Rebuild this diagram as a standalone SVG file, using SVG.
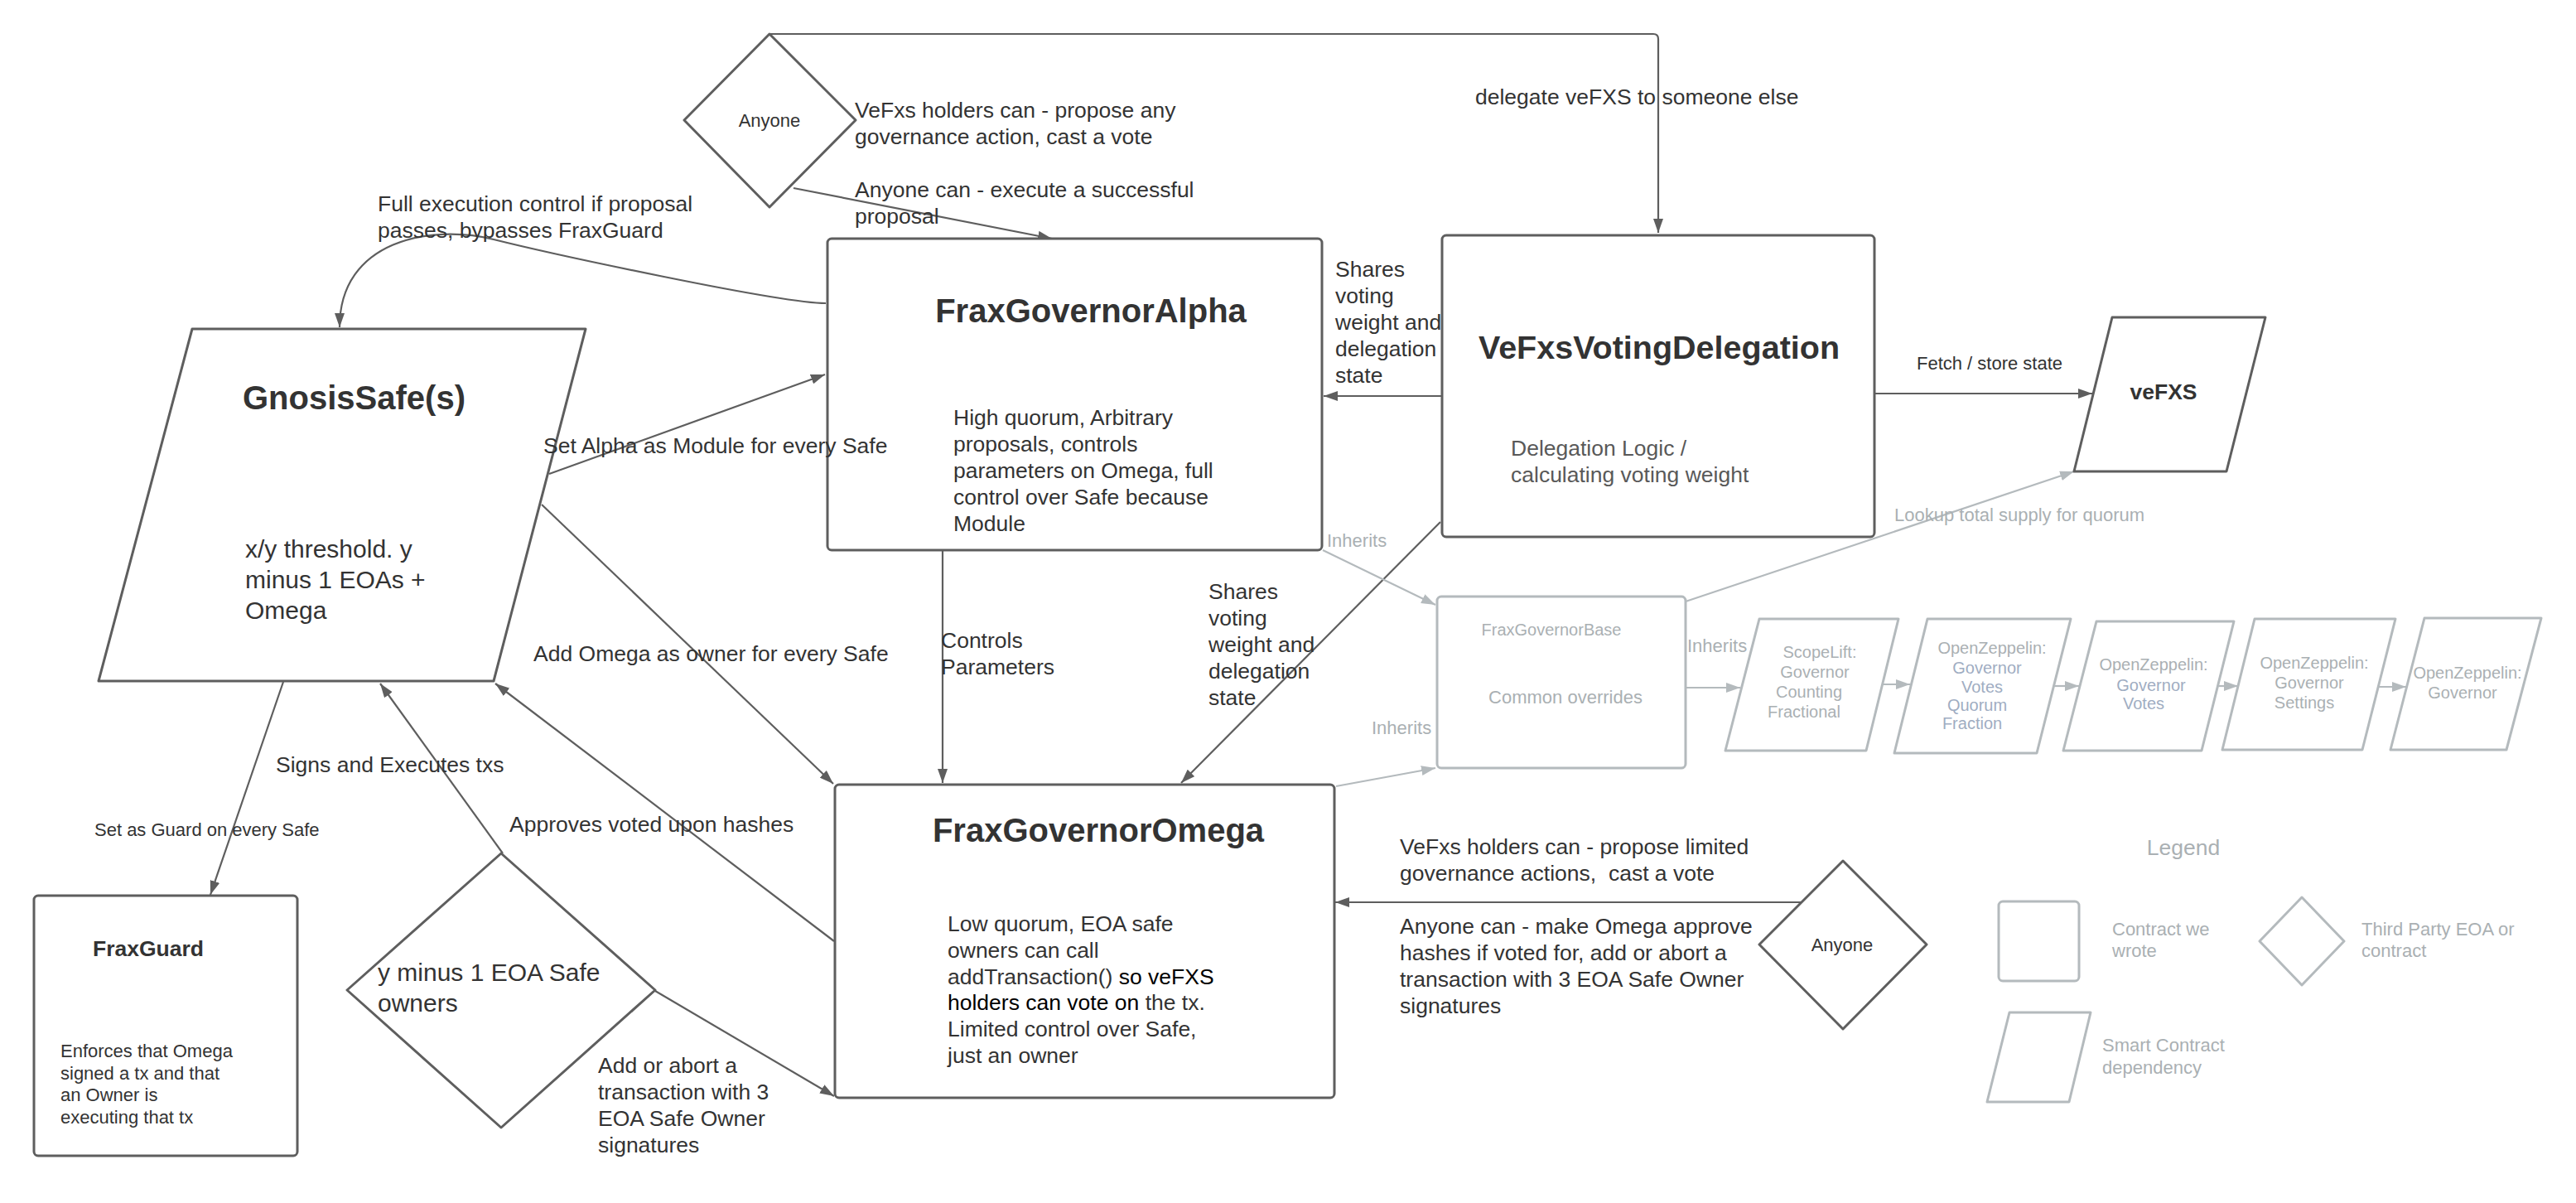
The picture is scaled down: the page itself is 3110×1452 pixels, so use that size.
<svg xmlns="http://www.w3.org/2000/svg" width="3110" height="1452" viewBox="0 0 3110 1452">
<defs>
<style>
text{font-family:"Liberation Sans",Arial,sans-serif;fill:#333333}
.t{font-size:26.5px}
.s{font-size:22px}
.xs{font-size:20px}
.b{font-weight:bold}
.h{font-size:40px;font-weight:bold}
.g{fill:#aab0b3}
.gb{fill:#9fadc2}
.blk{fill:#000000}
.shape{fill:#ffffff;stroke:#5e5e5e;stroke-width:3;stroke-linejoin:round}
.gshape{fill:#ffffff;stroke:#b4babd;stroke-width:3;stroke-linejoin:round}
.c{fill:none;stroke:#5e5e5e;stroke-width:2.2}
.gc{fill:none;stroke:#b4babd;stroke-width:2.2}
</style>
<marker id="ah" viewBox="0 0 17 12" refX="17" refY="6" markerWidth="17" markerHeight="12" markerUnits="userSpaceOnUse" orient="auto"><path d="M0,0 L17,6 L0,12 Z" fill="#5e5e5e"/></marker>
<marker id="gah" viewBox="0 0 17 12" refX="17" refY="6" markerWidth="17" markerHeight="12" markerUnits="userSpaceOnUse" orient="auto"><path d="M0,0 L17,6 L0,12 Z" fill="#b4babd"/></marker>
</defs>
<rect width="3110" height="1452" fill="#ffffff"/>

<g id="connectors">
<path class="c" d="M929,41 H1996 Q2002,41 2002,47 V281" marker-end="url(#ah)"/>
<path class="c" d="M958,227 L1270,288" marker-end="url(#ah)"/>
<path class="c" d="M997,366 C940,366 660,305 596,289 C520,270 410,290 410,395" marker-end="url(#ah)"/>
<path class="c" d="M663,572 L996,452" marker-end="url(#ah)"/>
<path class="c" d="M654,609 L1006,946" marker-end="url(#ah)"/>
<path class="c" d="M1138,664 V945" marker-end="url(#ah)"/>
<path class="c" d="M1741,478 H1598" marker-end="url(#ah)"/>
<path class="c" d="M1739,630 L1426,945" marker-end="url(#ah)"/>
<path class="c" d="M2263,475 H2526" marker-end="url(#ah)"/>
<path class="c" d="M2175,1089 H1612" marker-end="url(#ah)"/>
<path class="c" d="M342,823 L254,1080" marker-end="url(#ah)"/>
<path class="c" d="M607,1030 L459,825" marker-end="url(#ah)"/>
<path class="c" d="M1007,1136 L598,825" marker-end="url(#ah)"/>
<path class="c" d="M791,1196 L1007,1323" marker-end="url(#ah)"/>
<path class="gc" d="M2035,726 L2504,569" marker-end="url(#gah)"/>
<path class="gc" d="M1597,664 L1733,730" marker-end="url(#gah)"/>
<path class="gc" d="M1613,949 L1733,927" marker-end="url(#gah)"/>
<path class="gc" d="M2035,830 H2101" marker-end="url(#gah)"/>
<path class="gc" d="M2273,826 H2306" marker-end="url(#gah)"/>
<path class="gc" d="M2480,828 H2510" marker-end="url(#gah)"/>
<path class="gc" d="M2678,828 H2702" marker-end="url(#gah)"/>
<path class="gc" d="M2871,829 H2905" marker-end="url(#gah)"/>
</g>

<g id="anyone-top">
<path class="shape" d="M929,41 L1033,145 L929,250 L826,145 Z"/>
<text class="s" x="929" y="153" text-anchor="middle">Anyone</text>
</g>

<g id="frax-governor-alpha">
<rect class="shape" x="999" y="288" width="597" height="376" rx="5"/>
<text class="h" x="1317" y="389" text-anchor="middle">FraxGovernorAlpha</text>
<text class="t" x="1151" y="513">High quorum, Arbitrary</text>
<text class="t" x="1151" y="545">proposals, controls</text>
<text class="t" x="1151" y="577">parameters on Omega, full</text>
<text class="t" x="1151" y="609">control over Safe because</text>
<text class="t" x="1151" y="641">Module</text>
</g>

<g id="vefxs-voting-delegation">
<rect class="shape" x="1741" y="284" width="522" height="364" rx="5"/>
<text class="b" x="2003" y="433" text-anchor="middle" style="font-size:39.5px">VeFxsVotingDelegation</text>
<text class="t" x="1824" y="550" style="fill:#595959">Delegation Logic /</text>
<text class="t" x="1824" y="582" style="fill:#595959">calculating voting weight</text>
</g>

<g id="vefxs">
<path class="shape" d="M2550,383 L2735,383 L2688,569 L2504,569 Z"/>
<text class="t b" x="2612" y="482" text-anchor="middle">veFXS</text>
</g>

<g id="gnosis-safe">
<path class="shape" d="M232,397 L707,397 L596,822 L119,822 Z"/>
<text class="h" x="293" y="494">GnosisSafe(s)</text>
<text x="296" y="673" style="font-size:30px">x/y threshold. y</text>
<text x="296" y="710" style="font-size:30px">minus 1 EOAs +</text>
<text x="296" y="747" style="font-size:30px">Omega</text>
</g>

<g id="frax-governor-base">
<rect class="gshape" x="1735" y="720" width="300" height="207" rx="5"/>
<text class="xs g" x="1873" y="767" text-anchor="middle">FraxGovernorBase</text>
<text class="s g" x="1890" y="849" text-anchor="middle">Common overrides</text>
</g>

<g id="scopelift-counting-fractional">
<path class="gshape" d="M2124,747 L2292,747 L2253,906 L2083,906 Z"/>
<text class="xs g" x="2197" y="794" text-anchor="middle">ScopeLift:</text>
<text class="xs g" x="2191" y="818" text-anchor="middle">Governor</text>
<text class="xs g" x="2184" y="842" text-anchor="middle">Counting</text>
<text class="xs g" x="2178" y="866" text-anchor="middle">Fractional</text>
</g>

<g id="oz-governor-votes-quorum-fraction">
<path class="gshape" d="M2327,747 L2500,747 L2459,909 L2287,909 Z"/>
<text class="xs g" x="2405" y="789" text-anchor="middle">OpenZeppelin:</text>
<text class="xs gb" x="2399" y="813" text-anchor="middle">Governor</text>
<text class="xs gb" x="2393" y="836" text-anchor="middle">Votes</text>
<text class="xs gb" x="2387" y="858" text-anchor="middle">Quorum</text>
<text class="xs gb" x="2381" y="880" text-anchor="middle">Fraction</text>
</g>

<g id="oz-governor-votes">
<path class="gshape" d="M2531,750 L2697,750 L2658,906 L2491,906 Z"/>
<text class="xs g" x="2600" y="809" text-anchor="middle">OpenZeppelin:</text>
<text class="xs gb" x="2597" y="834" text-anchor="middle">Governor</text>
<text class="xs gb" x="2588" y="856" text-anchor="middle">Votes</text>
</g>

<g id="oz-governor-settings">
<path class="gshape" d="M2722,747 L2892,747 L2852,905 L2683,905 Z"/>
<text class="xs g" x="2794" y="807" text-anchor="middle">OpenZeppelin:</text>
<text class="xs g" x="2788" y="831" text-anchor="middle">Governor</text>
<text class="xs g" x="2782" y="855" text-anchor="middle">Settings</text>
</g>

<g id="oz-governor">
<path class="gshape" d="M2927,746 L3068,746 L3026,905 L2886,905 Z"/>
<text class="xs g" x="2979" y="819" text-anchor="middle">OpenZeppelin:</text>
<text class="xs g" x="2973" y="843" text-anchor="middle">Governor</text>
</g>

<g id="frax-governor-omega">
<rect class="shape" x="1008" y="947" width="603" height="378" rx="5"/>
<text class="h" x="1326" y="1016" text-anchor="middle">FraxGovernorOmega</text>
<text class="t" x="1144" y="1124">Low quorum, EOA safe</text>
<text class="t" x="1144" y="1156">owners can call</text>
<text class="t" x="1144" y="1188">addTransaction()<tspan class="blk"> so veFXS</tspan></text>
<text class="t" x="1144" y="1219"><tspan class="blk">holders can vote on</tspan> the tx.</text>
<text class="t" x="1144" y="1251">Limited control over Safe,</text>
<text class="t" x="1144" y="1283">just an owner</text>
</g>

<g id="anyone-right">
<path class="shape" d="M2225,1039 L2326,1140 L2225,1242 L2124,1140 Z"/>
<text class="s" x="2224" y="1148" text-anchor="middle">Anyone</text>
</g>

<g id="frax-guard">
<rect class="shape" x="41" y="1081" width="318" height="314" rx="5"/>
<text class="t b" x="112" y="1154">FraxGuard</text>
<text class="s" x="73" y="1276">Enforces that Omega</text>
<text class="s" x="73" y="1303">signed a tx and that</text>
<text class="s" x="73" y="1329">an Owner is</text>
<text class="s" x="73" y="1356">executing that tx</text>
</g>

<g id="eoa-safe-owners">
<path class="shape" d="M605,1030 L791,1195 L605,1361 L419,1195 Z"/>
<text x="456" y="1184" style="font-size:30px">y minus 1 EOA Safe</text>
<text x="456" y="1221" style="font-size:30px">owners</text>
</g>

<g id="legend">
<text class="t g" x="2636" y="1032" text-anchor="middle">Legend</text>
<rect class="gshape" x="2413" y="1088" width="97" height="96" rx="5"/>
<text class="s g" x="2550" y="1129">Contract we</text>
<text class="s g" x="2550" y="1155">wrote</text>
<path class="gshape" d="M2779,1083 L2830,1136 L2779,1189 L2728,1136 Z"/>
<text class="s g" x="2851" y="1129">Third Party EOA or</text>
<text class="s g" x="2851" y="1155">contract</text>
<path class="gshape" d="M2426,1222 L2524,1222 L2498,1330 L2399,1330 Z"/>
<text class="s g" x="2538" y="1269">Smart Contract</text>
<text class="s g" x="2538" y="1296">dependency</text>
</g>

<g id="connector-labels">
<text class="t" x="1032" y="142">VeFxs holders can - propose any</text>
<text class="t" x="1032" y="174">governance action, cast a vote</text>
<text class="t" x="1032" y="238">Anyone can - execute a successful</text>
<text class="t" x="1032" y="270">proposal</text>
<text class="t" x="1781" y="126">delegate veFXS to someone else</text>
<text class="t" x="456" y="255">Full execution control if proposal</text>
<text class="t" x="456" y="287">passes, bypasses FraxGuard</text>
<text class="t" x="1612" y="334">Shares</text>
<text class="t" x="1612" y="366">voting</text>
<text class="t" x="1612" y="398">weight and</text>
<text class="t" x="1612" y="430">delegation</text>
<text class="t" x="1612" y="462">state</text>
<text class="s" x="2402" y="446" text-anchor="middle">Fetch / store state</text>
<text class="s g" x="2287" y="629">Lookup total supply for quorum</text>
<text class="t" x="656" y="547">Set Alpha as Module for every Safe</text>
<text class="t" x="644" y="798">Add Omega as owner for every Safe</text>
<text class="t" x="1136" y="782">Controls</text>
<text class="t" x="1136" y="814">Parameters</text>
<text class="s g" x="1602" y="660">Inherits</text>
<text class="t" x="1459" y="723">Shares</text>
<text class="t" x="1459" y="755">voting</text>
<text class="t" x="1459" y="787">weight and</text>
<text class="t" x="1459" y="819">delegation</text>
<text class="t" x="1459" y="851">state</text>
<text class="s g" x="1656" y="886">Inherits</text>
<text class="s g" x="2037" y="787">Inherits</text>
<text class="t" x="1690" y="1031">VeFxs holders can - propose limited</text>
<text class="t" x="1690" y="1063" xml:space="preserve">governance actions,  cast a vote</text>
<text class="t" x="1690" y="1127">Anyone can - make Omega approve</text>
<text class="t" x="1690" y="1159">hashes if voted for, add or abort a</text>
<text class="t" x="1690" y="1191">transaction with 3 EOA Safe Owner</text>
<text class="t" x="1690" y="1223">signatures</text>
<text class="t" x="333" y="932">Signs and Executes txs</text>
<text class="s" x="114" y="1009">Set as Guard on every Safe</text>
<text class="t" x="615" y="1004">Approves voted upon hashes</text>
<text class="t" x="722" y="1295">Add or abort a</text>
<text class="t" x="722" y="1327">transaction with 3</text>
<text class="t" x="722" y="1359">EOA Safe Owner</text>
<text class="t" x="722" y="1391">signatures</text>
</g>
</svg>
